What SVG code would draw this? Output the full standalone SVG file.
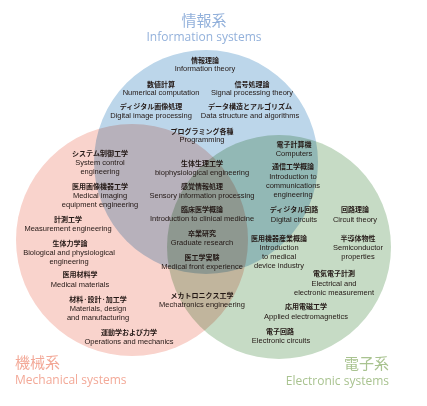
<svg xmlns="http://www.w3.org/2000/svg" width="427" height="406" viewBox="0 0 427 406">
<style>
.jp{font-family:"Noto Sans CJK JP","Noto Sans CJK SC",sans-serif;font-size:7px;font-weight:bold;text-anchor:middle;fill:#231815}
.en{font-family:"Liberation Sans",Arial,sans-serif;font-size:7.5px;text-anchor:middle;fill:#231815}
.tj{font-family:"Noto Sans CJK JP","Noto Sans CJK SC",sans-serif;font-size:15px}
.te{font-family:"Open Sans","Liberation Sans",sans-serif;font-size:12px}
.c{mix-blend-mode:multiply}
</style>
<rect width="427" height="406" fill="#ffffff"/>
<g id="circles" style="isolation:isolate">
<circle class="c" cx="206" cy="162" r="112" fill="#bcd6ea"/>
<circle class="c" cx="132" cy="240" r="116" fill="#f9d3cc"/>
<circle class="c" cx="279" cy="247" r="112" fill="#c6dbc5"/>
</g>
<g id="connectors"/>
<g id="title-info">
<text class="tj" x="204" y="26" text-anchor="middle" fill="#93b1db">情報系</text>
<text class="te" x="204" y="41" text-anchor="middle" fill="#93b1db">Information systems</text>
</g>
<g id="title-mech">
<text class="tj" x="15" y="368" fill="#f3a998">機械系</text>
<text class="te" x="15" y="384" fill="#f3a998">Mechanical systems</text>
</g>
<g id="title-elec">
<text class="tj" x="389" y="369" text-anchor="end" fill="#a9c390">電子系</text>
<text class="te" x="389" y="385" text-anchor="end" fill="#a9c390">Electronic systems</text>
</g>
<g id="n-info-theory"><text class="jp" x="205" y="63">情報理論</text><text class="en" x="205" y="71">Information theory</text></g>
<g id="n-numerical"><text class="jp" x="161" y="87">数値計算</text><text class="en" x="161" y="95">Numerical computation</text></g>
<g id="n-signal"><text class="jp" x="252" y="87">信号処理論</text><text class="en" x="252" y="95">Signal processing theory</text></g>
<g id="n-digital-image"><text class="jp" x="151" y="109">ディジタル画像処理</text><text class="en" x="151" y="118">Digital image processing</text></g>
<g id="n-data-structure"><text class="jp" x="250" y="109">データ構造とアルゴリズム</text><text class="en" x="250" y="118">Data structure and algorithms</text></g>
<g id="n-programming"><text class="jp" x="202" y="134">プログラミング各種</text><text class="en" x="202" y="142">Programming</text></g>
<g id="n-system-control"><text class="jp" x="100" y="156">システム制御工学</text><text class="en" x="100" y="165">System control</text><text class="en" x="100" y="174">engineering</text></g>
<g id="n-medical-imaging"><text class="jp" x="100" y="189">医用画像機器工学</text><text class="en" x="100" y="198">Medical imaging</text><text class="en" x="100" y="207">equipment engineering</text></g>
<g id="n-measurement"><text class="jp" x="68" y="222">計測工学</text><text class="en" x="68" y="231">Measurement engineering</text></g>
<g id="n-biological"><text class="jp" x="70" y="246">生体力学論</text><text class="en" x="69" y="255">Biological and physiological</text><text class="en" x="69" y="264">engineering</text></g>
<g id="n-medical-materials"><text class="jp" x="80" y="277">医用材料学</text><text class="en" x="80" y="287">Medical materials</text></g>
<g id="n-materials"><text class="jp" x="98" y="302">材料·設計·加工学</text><text class="en" x="98" y="311">Materials, design</text><text class="en" x="98" y="320">and manufacturing</text></g>
<g id="n-operations"><text class="jp" x="129" y="335">運動学および力学</text><text class="en" x="129" y="344">Operations and mechanics</text></g>
<g id="n-biophysiological"><text class="jp" x="202" y="166">生体生理工学</text><text class="en" x="202" y="175">biophysiological engineering</text></g>
<g id="n-sensory"><text class="jp" x="202" y="189">感覚情報処理</text><text class="en" x="202" y="198">Sensory information processing</text></g>
<g id="n-clinical"><text class="jp" x="202" y="212">臨床医学概論</text><text class="en" x="202" y="221">Introduction to clinical medicine</text></g>
<g id="n-graduate"><text class="jp" x="202" y="236">卒業研究</text><text class="en" x="202" y="245">Graduate research</text></g>
<g id="n-medical-front"><text class="jp" x="202" y="260">医工学実験</text><text class="en" x="202" y="269">Medical front experience</text></g>
<g id="n-mechatronics"><text class="jp" x="202" y="298">メカトロニクス工学</text><text class="en" x="202" y="307">Mechatronics engineering</text></g>
<g id="n-computers"><text class="jp" x="294" y="147">電子計算機</text><text class="en" x="294" y="156">Computers</text></g>
<g id="n-communications"><text class="jp" x="293" y="169">通信工学概論</text><text class="en" x="293" y="179">Introduction to</text><text class="en" x="293" y="188">communications</text><text class="en" x="293" y="197">engineering</text></g>
<g id="n-digital-circuits"><text class="jp" x="294" y="212">ディジタル回路</text><text class="en" x="294" y="222">Digital circuits</text></g>
<g id="n-circuit-theory"><text class="jp" x="355" y="212">回路理論</text><text class="en" x="355" y="222">Circuit theory</text></g>
<g id="n-device-industry"><text class="jp" x="279" y="241">医用機器産業概論</text><text class="en" x="279" y="250">Introduction</text><text class="en" x="279" y="259">to medical</text><text class="en" x="279" y="268">device industry</text></g>
<g id="n-semiconductor"><text class="jp" x="358" y="241">半導体物性</text><text class="en" x="358" y="250">Semiconductor</text><text class="en" x="358" y="259">properties</text></g>
<g id="n-electrical-measurement"><text class="jp" x="334" y="276">電気電子計測</text><text class="en" x="334" y="286">Electrical and</text><text class="en" x="334" y="295">electronic measurement</text></g>
<g id="n-electromagnetics"><text class="jp" x="306" y="309">応用電磁工学</text><text class="en" x="306" y="319">Applied electromagnetics</text></g>
<g id="n-electronic-circuits"><text class="jp" x="280" y="334">電子回路</text><text class="en" x="281" y="343">Electronic circuits</text></g>
</svg>
